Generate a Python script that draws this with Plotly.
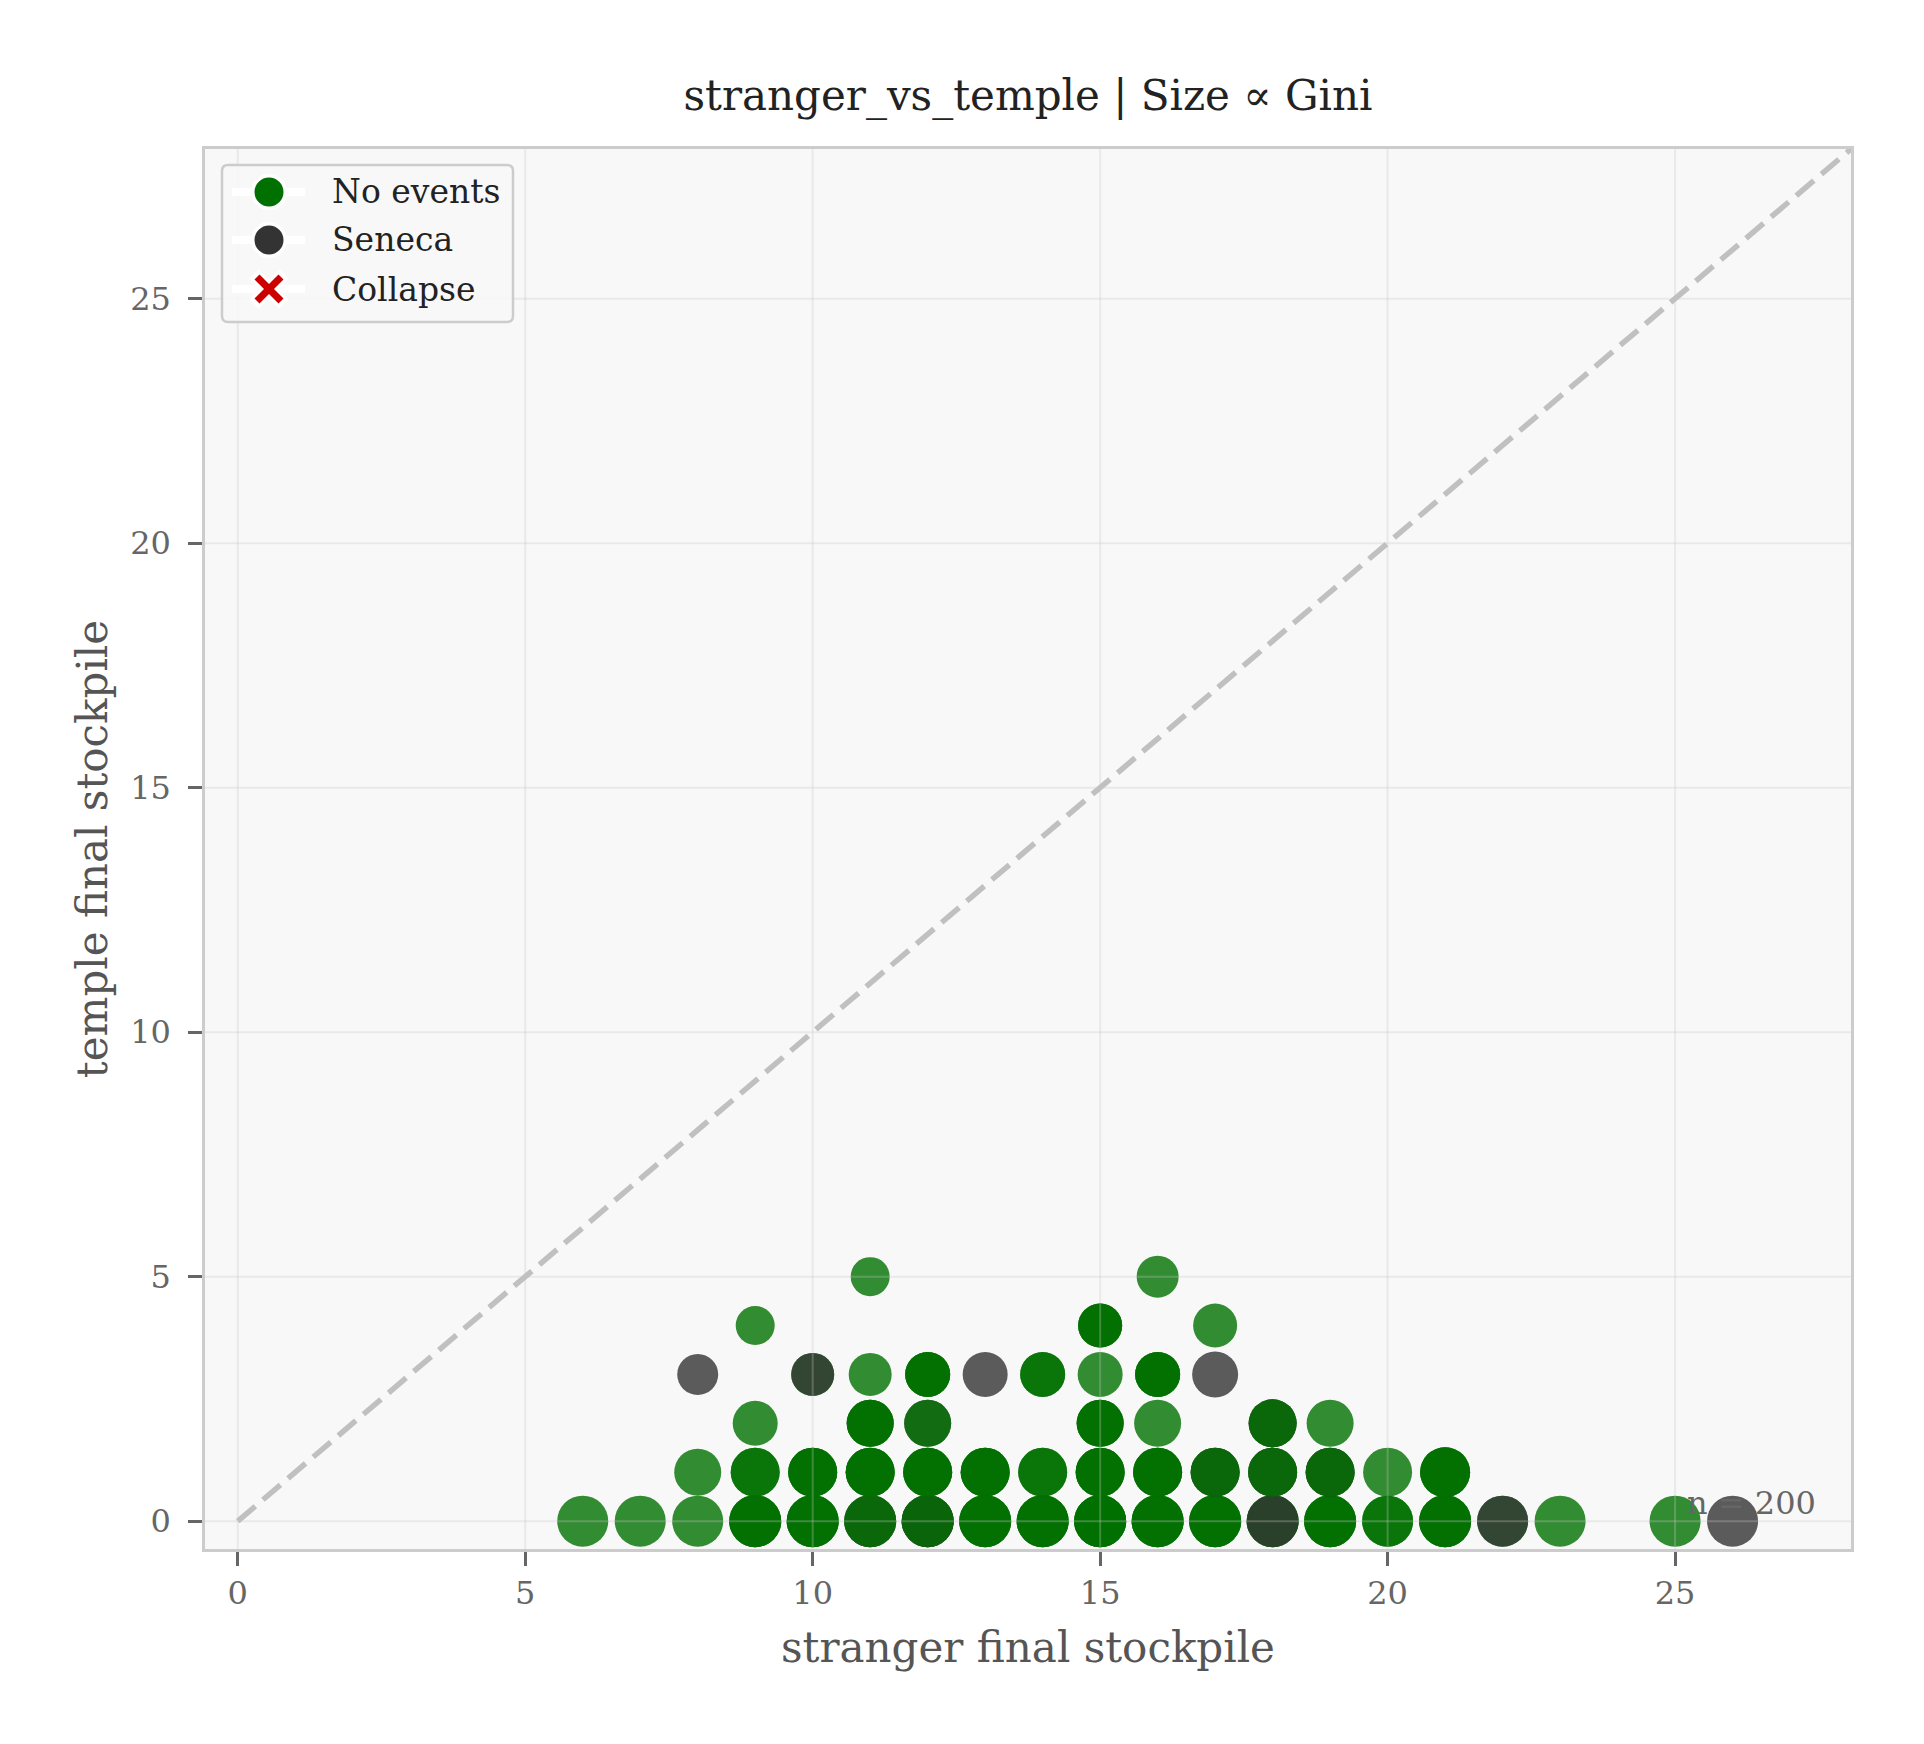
import plotly.graph_objs as go

# 每个位置上的点：stranger / temple 坐标，事件序列（按绘制顺序，N=No events, S=Seneca），Gini
stranger = [6, 7, 8, 8, 8,
            9, 9, 9, 9,
            10, 10, 10,
            11, 11, 11, 11, 11,
            12, 12, 12, 12,
            13, 13, 13,
            14, 14, 14,
            15, 15, 15, 15, 15,
            16, 16, 16, 16, 16,
            17, 17, 17, 17,
            18, 18, 18,
            19, 19, 19,
            20, 20,
            21, 21,
            22, 23, 25, 26]
temple = [0, 0, 0, 1, 3,
          0, 1, 2, 4,
          0, 1, 3,
          0, 1, 2, 3, 5,
          0, 1, 2, 3,
          0, 1, 3,
          0, 1, 3,
          0, 1, 2, 3, 4,
          0, 1, 2, 3, 5,
          0, 1, 3, 4,
          0, 1, 2,
          0, 1, 2,
          0, 1,
          0, 1,
          0, 0, 0, 0]
events = ['N', 'N', 'N', 'N', 'S',
          'NNN', 'NN', 'N', 'N',
          'NNN', 'NNN', 'NS',
          'NSN', 'NNN', 'NNN', 'N', 'N',
          'NSSN', 'NNN', 'SN', 'NNN',
          'NNN', 'NNN', 'S',
          'NNN', 'NN', 'NN',
          'NNNN', 'NNN', 'NNN', 'N', 'NNN',
          'NNN', 'NNN', 'N', 'NNN', 'N',
          'NNN', 'NSN', 'S', 'N',
          'NNS', 'NSN', 'NSN',
          'NNN', 'NSN', 'N',
          'NN', 'N',
          'NNN', 'NNN',
          'NS', 'N', 'N', 'S']
gini = [0.51, 0.51, 0.51, 0.47, 0.41,
        0.52, 0.49, 0.45, 0.39,
        0.52, 0.49, 0.43,
        0.52, 0.49, 0.47, 0.43, 0.39,
        0.52, 0.49, 0.47, 0.45,
        0.52, 0.49, 0.45,
        0.52, 0.49, 0.45,
        0.52, 0.49, 0.47, 0.45, 0.44,
        0.52, 0.49, 0.47, 0.45, 0.42,
        0.52, 0.49, 0.46, 0.44,
        0.52, 0.49, 0.48,
        0.52, 0.49, 0.47,
        0.51, 0.49,
        0.52, 0.50,
        0.51, 0.51, 0.51, 0.51]

legend_names = ['No events', 'Seneca', 'Collapse']
colors = {'N': '#007000', 'S': '#333333', 'C': '#cc0000'}

# 坐标轴范围与画布
lo, hi = -0.57, 28.06
W, H = 1924, 1744
L, R, T, B = 205, 1851, 149, 1549


def px_x(p):
    return (p - L) / (R - L)


def px_y(p):
    return (B - p) / (B - T)


def scatter():
    xs, ys, cs, ss = [], [], [], []
    for x, y, ev, g in zip(stranger, temple, events, gini):
        for e in ev:
            xs.append(x)
            ys.append(y)
            cs.append(colors[e])
            ss.append(g * 100)

    dots = go.Scatter(
        x=xs, y=ys, mode='markers',
        marker=dict(color=cs, size=ss, opacity=0.8, line=dict(width=0))
    )

    shapes = []
    # 网格线画在点之上
    for v in range(0, 26, 5):
        shapes.append(dict(type='line', xref='x', yref='paper', x0=v, x1=v, y0=0, y1=1,
                           line=dict(color='rgba(200,200,200,0.3)', width=2), layer='above'))
        shapes.append(dict(type='line', xref='paper', yref='y', x0=0, x1=1, y0=v, y1=v,
                           line=dict(color='rgba(200,200,200,0.3)', width=2), layer='above'))

    # 对角线 y = x
    shapes.append(dict(type='line', xref='x', yref='y', x0=0, y0=0, x1=hi, y1=hi,
                       line=dict(color='#c0c0c0', width=5.5, dash='23px,10px'), layer='above'))

    # 图例框
    bx0, bx1, by0, by1, r = 222, 513, 165, 322, 6
    path = ('M {} {} L {} {} Q {} {} {} {} L {} {} Q {} {} {} {} L {} {} Q {} {} {} {} '
            'L {} {} Q {} {} {} {} Z').format(
        px_x(bx0 + r), px_y(by0), px_x(bx1 - r), px_y(by0),
        px_x(bx1), px_y(by0), px_x(bx1), px_y(by0 + r),
        px_x(bx1), px_y(by1 - r), px_x(bx1), px_y(by1), px_x(bx1 - r), px_y(by1),
        px_x(bx0 + r), px_y(by1), px_x(bx0), px_y(by1), px_x(bx0), px_y(by1 - r),
        px_x(bx0), px_y(by0 + r), px_x(bx0), px_y(by0), px_x(bx0 + r), px_y(by0))
    shapes.append(dict(type='path', xref='paper', yref='paper', path=path,
                       fillcolor='rgba(247,247,247,0.9)', line=dict(color='#cccccc', width=2.5),
                       layer='above'))

    annotations = []
    mx = 269
    rows = [192, 240, 289]
    for name, key, ry in zip(legend_names, ['N', 'S', 'C'], rows):
        shapes.append(dict(type='line', xref='paper', yref='paper',
                           x0=px_x(232), x1=px_x(305), y0=px_y(ry), y1=px_y(ry),
                           line=dict(color='white', width=8), layer='above'))
        if key == 'C':
            for d in (1, -1):
                shapes.append(dict(type='line', xref='paper', yref='paper',
                                   x0=px_x(mx - 15), x1=px_x(mx + 15),
                                   y0=px_y(ry - 15 * d), y1=px_y(ry + 15 * d),
                                   line=dict(color='white', width=13), layer='above'))
            for d in (1, -1):
                shapes.append(dict(type='line', xref='paper', yref='paper',
                                   x0=px_x(mx - 12), x1=px_x(mx + 12),
                                   y0=px_y(ry - 12 * d), y1=px_y(ry + 12 * d),
                                   line=dict(color=colors[key], width=7), layer='above'))
        else:
            rr = 16.25
            shapes.append(dict(type='circle', xref='paper', yref='paper',
                               x0=px_x(mx - rr), x1=px_x(mx + rr),
                               y0=px_y(ry + rr), y1=px_y(ry - rr),
                               fillcolor=colors[key], line=dict(color='white', width=3.5),
                               layer='above'))
        annotations.append(dict(text=name, xref='paper', yref='paper',
                                x=px_x(330), y=px_y(ry), xanchor='left', yanchor='middle',
                                showarrow=False, font=dict(size=33, color='#222222')))

    annotations.append(dict(text='n = 200', xref='paper', yref='paper', x=0.98, y=0.018,
                            xanchor='right', yanchor='bottom', showarrow=False,
                            font=dict(size=32, color='#666666')))

    axis = dict(
        range=[lo, hi], dtick=5, showgrid=False, zeroline=False,
        showline=True, mirror=True, linecolor='#cccccc', linewidth=2.5,
        ticks='outside', ticklen=14, tickwidth=2.5, tickcolor='#666666',
        tickfont=dict(size=32, color='#666666'), layer='above traces'
    )

    layout = go.Layout(
        width=W, height=H,
        margin=dict(l=L, r=W - R, t=T, b=H - B, autoexpand=False),
        paper_bgcolor='white', plot_bgcolor='#f8f8f8',
        font=dict(family='DejaVu Serif'),
        title=dict(text='stranger_vs_temple | Size ∝ Gini', x=0.5, xref='paper',
                   y=1 - 95 / H, yref='container', xanchor='center', yanchor='middle',
                   font=dict(size=42, color='#222222')),
        xaxis=dict(axis, title=dict(text='stranger final stockpile', standoff=22,
                                    font=dict(size=42, color='#555555'))),
        yaxis=dict(axis, ticklabelstandoff=11,
                   title=dict(text='temple final stockpile', standoff=10,
                              font=dict(size=42, color='#555555'))),
        showlegend=False,
        shapes=shapes,
        annotations=annotations
    )

    figure = go.Figure(data=[dots], layout=layout)
    figure.write_html('out.html', config={'displayModeBar': False},
                      post_script="document.body.style.margin='0';")


if __name__ == '__main__':
    scatter()
